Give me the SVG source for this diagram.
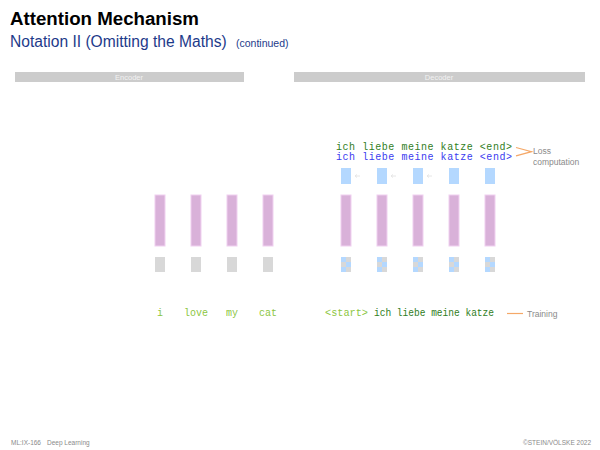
<svg xmlns="http://www.w3.org/2000/svg" width="600" height="450" viewBox="0 0 600 450">
<style>
.title{font-family:"Liberation Sans",Arial,sans-serif;font-weight:bold;font-size:18.7px;fill:#000}
.sub{font-family:"Liberation Sans",Arial,sans-serif;font-size:15.6px;fill:#1d3a8a}
.small{font-size:10.5px}
.hdr{font-family:"Liberation Sans",Arial,sans-serif;font-size:7.5px;fill:#f2f2f2;text-anchor:middle}
.hbar{fill:#cccccc}
.bar{fill:#d9b1d9;stroke:#f0d0f0;stroke-width:1}
.g{fill:#d8d8d8}
.b{fill:#b4d8ff}
.mono{font-family:"Liberation Mono","Courier New",monospace;font-size:10px}
.dg{fill:#2f7d22}
.bl{fill:#3a3af0}
.lg{fill:#8cc63f}
.note{font-family:"Liberation Sans",Arial,sans-serif;font-size:8.5px;fill:#8a8a8a}
.foot{font-family:"Liberation Sans",Arial,sans-serif;font-size:6.5px;fill:#8a8a8a}
.or{stroke:#f5a868;stroke-width:1.2;fill:none}
.faint{stroke:#e6e6e6;stroke-width:1;fill:none}
</style>
<defs>
<g id="chk">
<rect x="0" y="0" width="10" height="15" class="g"/>
<rect x="0" y="0" width="5" height="5" class="b"/>
<rect x="5" y="5" width="5" height="5" class="b"/>
<rect x="0" y="10" width="5" height="5" class="b"/>
</g>
</defs>
<rect width="600" height="450" fill="#ffffff"/>
<g id="title">
<text class="title" x="10" y="25">Attention Mechanism</text>
<text class="sub" x="10" y="47">Notation II (Omitting the Maths) <tspan class="small" x="236">(continued)</tspan></text>
</g>
<g id="headers">
<rect class="hbar" x="15" y="72" width="229" height="10"/>
<text class="hdr" x="129" y="79.7">Encoder</text>
<rect class="hbar" x="294" y="72" width="291" height="10"/>
<text class="hdr" x="439" y="79.7">Decoder</text>
</g>
<g id="encoder">
<g id="enc1"><rect class="bar" x="155" y="195" width="10" height="51"/><rect class="g" x="155" y="257" width="10" height="15"/></g>
<g id="enc2"><rect class="bar" x="191" y="195" width="10" height="51"/><rect class="g" x="191" y="257" width="10" height="15"/></g>
<g id="enc3"><rect class="bar" x="227" y="195" width="10" height="51"/><rect class="g" x="227" y="257" width="10" height="15"/></g>
<g id="enc4"><rect class="bar" x="263" y="195" width="10" height="51"/><rect class="g" x="263" y="257" width="10" height="15"/></g>
</g>
<g id="decoder">
<g id="dec1"><rect class="b" x="341" y="168" width="10" height="16"/><rect class="bar" x="341" y="195" width="10" height="51"/><use href="#chk" x="341" y="257"/></g>
<g id="dec2"><rect class="b" x="377" y="168" width="10" height="16"/><rect class="bar" x="377" y="195" width="10" height="51"/><use href="#chk" x="377" y="257"/></g>
<g id="dec3"><rect class="b" x="413" y="168" width="10" height="16"/><rect class="bar" x="413" y="195" width="10" height="51"/><use href="#chk" x="413" y="257"/></g>
<g id="dec4"><rect class="b" x="449" y="168" width="10" height="16"/><rect class="bar" x="449" y="195" width="10" height="51"/><use href="#chk" x="449" y="257"/></g>
<g id="dec5"><rect class="b" x="485" y="168" width="10" height="16"/><rect class="bar" x="485" y="195" width="10" height="51"/><use href="#chk" x="485" y="257"/></g>
</g>
<g id="connectors">
<path class="faint" d="M360 176 h-5 M357 174.5 l-2 1.5 l2 1.5"/>
<path class="faint" d="M396 176 h-5 M393 174.5 l-2 1.5 l2 1.5"/>
<path class="faint" d="M432 176 h-5 M429 174.5 l-2 1.5 l2 1.5"/>
<path class="or" d="M516 147.5 L531.5 151.7 L516 155.8"/>
<path class="or" d="M507 313.5 H523"/>
</g>
<g id="targets">
<text class="mono dg" x="336" y="150" textLength="176" lengthAdjust="spacing">ich liebe meine katze &lt;end&gt;</text>
<text class="mono bl" x="336" y="160" textLength="176" lengthAdjust="spacing">ich liebe meine katze &lt;end&gt;</text>
<text class="note" x="533" y="154">Loss</text>
<text class="note" x="533" y="165">computation</text>
</g>
<g id="inputs">
<text class="mono lg" text-anchor="middle" x="160" y="316">i</text>
<text class="mono lg" text-anchor="middle" x="196" y="316">love</text>
<text class="mono lg" text-anchor="middle" x="232" y="316">my</text>
<text class="mono lg" text-anchor="middle" x="268" y="316">cat</text>
<text class="mono lg" x="325" y="316" textLength="43" lengthAdjust="spacingAndGlyphs">&lt;start&gt;</text>
<text class="mono dg" x="374" y="316" textLength="120" lengthAdjust="spacingAndGlyphs">ich liebe meine katze</text>
<text class="note" x="527" y="316.5">Training</text>
</g>
<g id="footer">
<text class="foot" x="11" y="445">ML:IX-166</text>
<text class="foot" x="47" y="445">Deep Learning</text>
<text class="foot" x="591" y="445" text-anchor="end">©STEIN/VÖLSKE 2022</text>
</g>
</svg>
